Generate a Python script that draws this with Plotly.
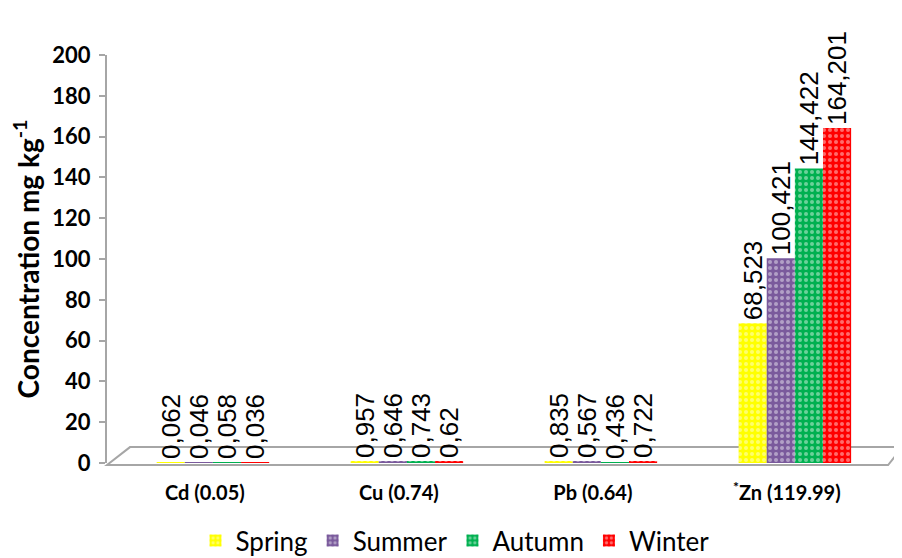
import plotly.graph_objects as go

categories = ["Cd (0.05)", "Cu (0.74)", "Pb (0.64)", "<sup>*</sup>Zn (119.99)"]
seasons = ["Spring", "Summer", "Autumn", "Winter"]
spring = [0.062, 0.957, 0.835, 68.523]
summer = [0.046, 0.646, 0.567, 100.421]
autumn = [0.058, 0.743, 0.436, 144.422]
winter = [0.036, 0.62, 0.722, 164.201]
colors = ["#FFFF00", "#7A5A9C", "#00B050", "#FF0000"]
y_ticks = [0, 20, 40, 60, 80, 100, 120, 140, 160, 180, 200]

series = [spring, summer, autumn, winter]

fig = go.Figure()
for name, vals, col in zip(seasons, series, colors):
    fig.add_trace(go.Bar(
        x=categories, y=vals, name=name,
        text=[f"{v:g}".replace(".", ",") for v in vals],
        textposition="outside", textangle=-90, constraintext="none",
        cliponaxis=False,
        textfont=dict(family="Liberation Sans, Arial", size=26, color="black"),
        marker=dict(color=col, line=dict(width=0),
                    pattern=dict(shape=".", fgcolor="rgba(255,255,255,0.85)", bgcolor=col,
                                 size=6, solidity=0.35, fillmode="overlay")),
    ))

grey = "#A6A6A6"
# floor of the pseudo-3D chart (decoration)
fig.add_shape(type="path", xref="paper", yref="paper",
              path="M 0 -0.005 L 0.029 0.039 L 1.003 0.039 L 0.985 -0.005 Z",
              fillcolor="white", line=dict(color=grey, width=2), layer="below")

# the page body adds an 8px offset; the figure is sized to fill the rest of the window
fig.update_layout(
    width=894, height=550,
    margin=dict(l=99, r=2, t=47, b=95, autoexpand=False),
    paper_bgcolor="white", plot_bgcolor="white",
    barmode="group", bargap=0.42, bargroupgap=0,
    font=dict(family="Lato, Open Sans", color="black"),
    showlegend=True,
    legend=dict(orientation="h", xref="container", x=0.5, xanchor="center",
                yref="paper", y=-0.19, yanchor="middle",
                font=dict(family="Lato", size=26, color="black"),
                itemwidth=30, tracegroupgap=0),
    xaxis=dict(range=[-0.546, 3.542], showline=False, showgrid=False, zeroline=False,
               ticks="", tickfont=dict(family="Lato", size=20, color="black", weight="bold"),
               ticklabelstandoff=16, ticklabelshift=-8, automargin=False),
    yaxis=dict(range=[0, 200], tickvals=y_ticks, showgrid=False, zeroline=False,
               showline=True, linecolor=grey, linewidth=2,
               ticks="outside", ticklen=6, tickcolor=grey, tickwidth=2,
               ticklabelstandoff=4, automargin=False,
               tickfont=dict(family="Lato", size=22, color="black", weight="bold"),
               title=dict(text="Concentration mg kg<sup>-1</sup>",
                          font=dict(family="Lato", size=28, color="black", weight="bold"),
                          standoff=6)),
)

fig.write_html("out.html")
